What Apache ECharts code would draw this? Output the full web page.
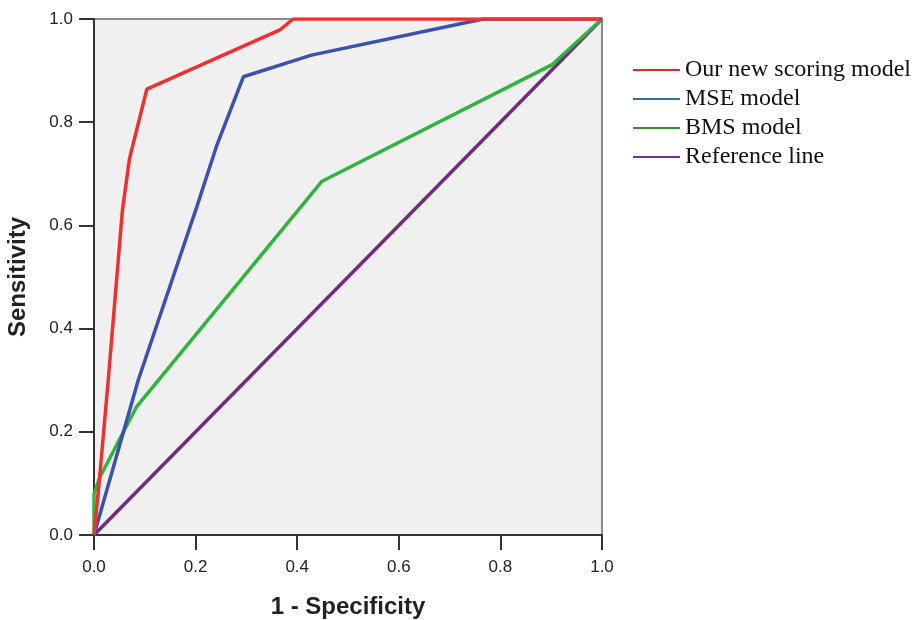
<!DOCTYPE html>
<html>
<head>
<meta charset="utf-8">
<script src="https://cdn.jsdelivr.net/npm/echarts@6/dist/echarts.min.js"></script>
<style>html,body{margin:0;padding:0;background:#fff;}#c{width:919px;height:620px;}</style>
</head>
<body>
<div id="c"></div>
<script>
const seriesNames = ["Our new scoring model", "MSE model", "BMS model", "Reference line"];
const ourModel = [[0,0],[0.01,0.1],[0.028,0.30],[0.056,0.63],[0.070,0.730],[0.104,0.864],[0.366,0.979],[0.392,1.0],[1,1]];
const mseModel = [[0,0],[0.087,0.30],[0.202,0.635],[0.241,0.753],[0.294,0.888],[0.428,0.93],[0.766,1.0],[1,1]];
const bmsModel = [[0,0],[0,0.08],[0.012,0.113],[0.084,0.249],[0.448,0.685],[0.901,0.911],[1,1]];
const refLine = [[0,0],[1,1]];
const colors = ['#f0302f', '#3a52ad', '#2fb53c', '#742a80'];
const legendColors = ['#e8262b', '#2f6cc0', '#3a8c34', '#7030a0'];

const chart = echarts.init(document.getElementById('c'));
const axisCommon = {
  type: 'value', min: 0, max: 1, interval: 0.2,
  axisLine: {show: true, lineStyle: {color: '#333', width: 2}},
  axisTick: {show: true, length: 15, lineStyle: {color: '#333', width: 2}},
  splitLine: {show: false},
  axisLabel: {fontFamily: 'Liberation Sans, Arial', fontSize: 17, color: '#222', formatter: v => v.toFixed(1)},
  nameTextStyle: {fontFamily: 'Liberation Sans, Arial', fontSize: 24, fontWeight: 'bold', color: '#222'}
};
const data = [ourModel, mseModel, bmsModel, refLine];
chart.setOption({
  animation: false,
  backgroundColor: '#fff',
  grid: {left: 94, right: 317, top: 19, bottom: 85, containLabel: false, outerBoundsMode: 'none',
    show: true, backgroundColor: '#f0f0f0', borderColor: '#8a8a8a', borderWidth: 2},
  legend: {
    orient: 'vertical', left: 633, top: 58, padding: 0, itemWidth: 47, itemHeight: 2, itemGap: 5, icon: 'rect',
    textStyle: {fontFamily: 'Liberation Serif, Times New Roman', fontSize: 24, color: '#111'},
    data: seriesNames.map((n, i) => ({name: n, itemStyle: {color: legendColors[i]}}))
  },
  xAxis: Object.assign({}, axisCommon, {name: '1 - Specificity', nameLocation: 'middle', nameGap: 60,
    axisLabel: Object.assign({}, axisCommon.axisLabel, {margin: 24})}),
  yAxis: Object.assign({}, axisCommon, {name: 'Sensitivity', nameLocation: 'middle', nameGap: 64,
    axisLabel: Object.assign({}, axisCommon.axisLabel, {margin: 21})}),
  series: seriesNames.map((n, i) => ({
    name: n, type: 'line', data: data[i], showSymbol: false, symbol: 'none',
    lineStyle: {color: colors[i], width: 3.5}, itemStyle: {color: colors[i]},
    z: 10 - i
  }))
});
</script>
</body>
</html>
